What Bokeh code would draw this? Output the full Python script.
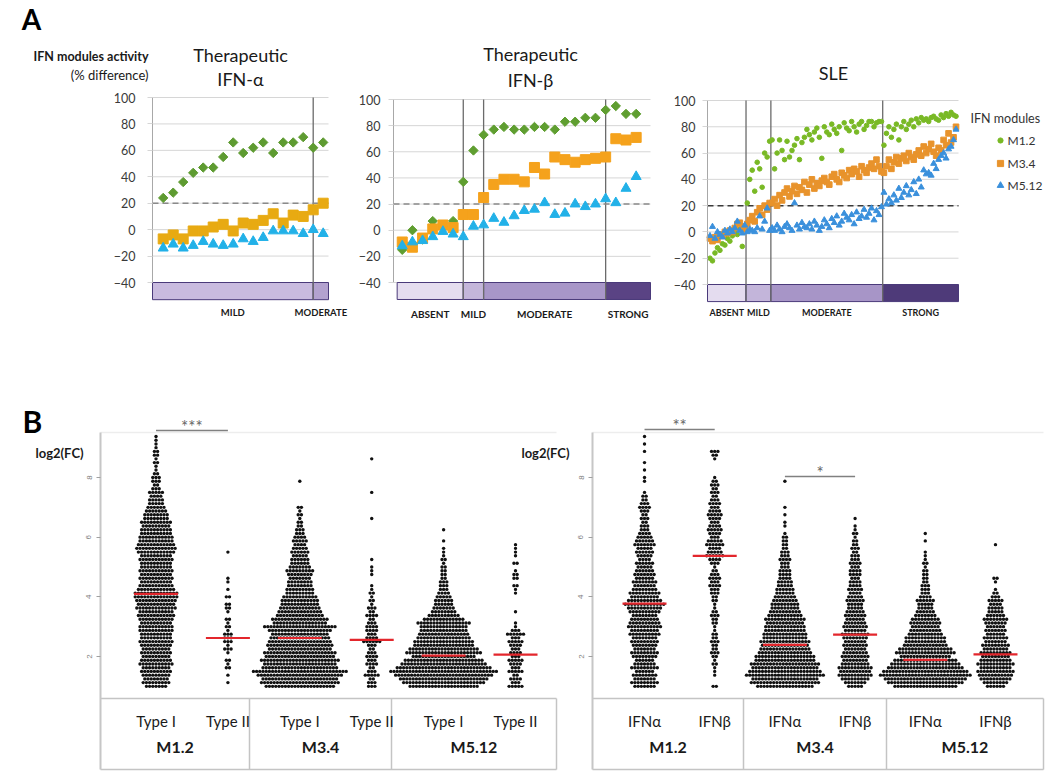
import numpy as np
from bokeh.plotting import figure
from bokeh.models import (Range1d, FixedTicker, Label, ColumnDataSource)
from bokeh.layouts import row, column
from bokeh.embed import file_html
from bokeh.resources import INLINE
from bokeh.core.properties import value

FONT = "Lato"

# ======================= Panel A data =======================
A_TICKS = [-40, -20, 0, 20, 40, 60, 80, 100]
THRESHOLD = 20

# Therapeutic IFN-alpha (17 samples)
a1_m12 = [24, 28, 36, 43, 47, 47, 55, 66, 58, 62, 66, 58, 66, 66, 70, 62, 66]
a1_m34 = [-7, -4, -7, -1, -1, 2, 4, -1, 5, 4, 7, 12, 5, 11, 10, 15, 20]
a1_m512 = [-14, -11, -14, -12, -9, -11, -12, -11, -7, -9, -6, -1, -1, -1, -3, 0, -3]
a1_groups = ["MILD", "MODERATE"]
a1_bounds = [15]

# Therapeutic IFN-beta (24 samples)
a2_m12 = [-15, 0, -7, 7, 3, 7, 37, 61, 73, 77, 79, 77, 77, 79, 79, 77, 83, 83, 86, 86, 92, 95, 89, 89]
a2_m34 = [-9, -13, -6, 1, 4, 2, 12, 12, 25, 35, 39, 39, 37, 48, 43, 56, 54, 52, 54, 55, 56, 70, 69, 71]
a2_m512 = [-12, -9, -8, -5, -1, -3, -5, 3, 4, 9, 6, 11, 15, 16, 21, 12, 13, 20, 18, 20, 24, 21, 32, 41]
a2_groups = ["ABSENT", "MILD", "MODERATE", "STRONG"]
a2_bounds = [6, 8, 20]

# SLE (100 patients)
sle_m12 = [-20, -22, -16, -12, -14, -9, -10, -5, -7, -3, 0, -2, 2, -11, 4,
           22, 40, 47, 31, 53, 48, 34, 60, 57, 69,
           70, 48, 60, 70, 62, 55, 69, 57, 62, 66, 71, 55, 68, 72, 78, 74, 70, 76, 79, 72,
           56, 80, 76, 74, 82, 78, 75, 80, 62, 83, 79, 77, 84, 80, 76, 82, 84, 78, 81, 84,
           84, 80, 83, 84, 84,
           66, 75, 80, 72, 78, 82, 70, 80, 84, 78, 82, 85, 80, 86, 83, 87, 85, 86, 84, 87,
           88, 86, 85, 89, 87, 90, 88, 91, 89, 88]
sle_m34 = [-5, -7, -4, -6, -2, -3, 0, -1, 1, 0, 3, 6, 7, 4, 2,
           6, 9, 12, 8, 15, 18, 13, 20, 17, 22,
           22, 25, 20, 28, 24, 30, 33, 27, 31, 35, 29, 34, 32, 38, 30, 36, 40, 33, 37, 35,
           39, 41, 38, 36, 42, 44, 40, 38, 45, 43, 41, 47, 44, 48, 46, 42, 50, 47, 45, 49,
           52, 48, 55, 50, 46,
           45, 50, 55, 48, 53, 57, 52, 56, 58, 54, 60, 57, 55, 59, 62, 58, 65, 60, 63, 67,
           61, 58, 64, 62, 70, 66, 75, 68, 72, 80]
sle_m512 = [-3, 4, -5, 0, -2, -4, 1, -1, 2, 0, 3, 8, 1, -1, 5,
            0, 2, 1, 0, 3, 12, 2, 8, 18, 1,
            3, 1, 5, 2, 0, 4, 6, 3, 1, 22, 5, 2, 7, 4, 3, 6, 2, 8, 5, 1,
            4, 9, 6, 3, 10, 7, 12, 5, 8, 14, 11, 9, 13, 6, 15, 10, 12, 17, 11, 14,
            18, 9, 16, 13, 19,
            30, 21, 25, 22, 28, 24, 33, 26, 30, 35, 28, 32, 38, 29, 40, 34, 47, 44, 45, 43,
            52, 48, 55, 58, 60, 56, 63, 65, 70, 78]
a3_groups = ["ABSENT", "MILD", "MODERATE", "STRONG"]
a3_bounds = [14.5, 24.5, 69.5]

module_names = ["M1.2", "M3.4", "M5.12"]

# ======================= Panel B data =======================
B_TICKS = [2, 4, 6, 8]
LEVEL_START, LEVEL_STEP = 1.0, 0.125   # beeswarm row bins of log2(FC)

b_groups = ["M1.2", "M3.4", "M5.12"]
b_left_sub = ["Type I", "Type II"]
b_right_sub = ["IFN\u03b1", "IFN\u03b2"]

# points per row (from log2FC = 1.0 upward in 0.125 steps)
L_M12_I = [7, 9, 8, 9, 10, 9, 11, 10, 9, 10, 9, 10, 11, 10, 10, 11, 11, 10, 11, 12, 11, 13, 12, 13,
           14, 14, 12, 11, 10, 11, 10, 11, 10, 10, 11, 10, 12, 13, 12, 11, 11, 10, 10, 9, 10, 8,
           8, 7, 6, 5, 5, 4, 5, 3, 2, 3, 3, 2, 1, 1, 2, 1, 2, 2, 1, 1, 1, 1]
L_M12_II = [0, 1, 0, 1, 0, 2, 1, 2, 0, 1, 3, 1, 3, 3, 3, 1, 2, 1, 2, 0, 1, 2, 2, 0, 2, 0, 1, 0, 1,
            1, 0, 0, 0, 0, 0, 0, 1]
L_M34_I = [22, 25, 24, 27, 30, 24, 23, 25, 22, 23, 20, 21, 20, 19, 18, 20, 23, 17, 18, 15, 14, 13,
           12, 12, 11, 9, 9, 8, 8, 7, 8, 9, 7, 6, 6, 5, 6, 5, 4, 5, 4, 3, 3, 2, 2, 1, 2, 1, 2, 0,
           0, 0, 0, 0, 0, 1]
L_M34_II = [3, 3, 2, 5, 3, 2, 4, 3, 4, 3, 2, 3, 6, 4, 3, 4, 4, 3, 2, 4, 2, 3, 1, 2, 1, 2, 1, 1, 0,
            0, 1, 1, 1, 0, 1, 0, 0, 0, 0, 0, 0, 0, 0, 0, 0, 1, 0, 0, 0, 0, 0, 0, 1, 0, 0, 0, 0, 0,
            0, 0, 0, 1]
L_M512_I = [22, 26, 28, 31, 34, 30, 27, 25, 20, 24, 22, 19, 19, 17, 16, 15, 15, 17, 13, 10, 8, 7, 6,
            6, 5, 4, 3, 3, 3, 2, 2, 2, 2, 1, 2, 1, 1, 1, 0, 1, 0, 0, 1]
L_M512_II = [5, 3, 4, 2, 5, 3, 4, 5, 3, 4, 3, 4, 5, 3, 6, 3, 1, 1, 0, 0, 1, 0, 0, 0, 0, 1, 1, 2, 0,
             2, 2, 1, 0, 2, 0, 1, 1, 1, 1]
left_counts = [L_M12_I, L_M12_II, L_M34_I, L_M34_II, L_M512_I, L_M512_II]
left_medians = [4.1, 2.62, 2.62, 2.56, 2.03, 2.06]

R_M12_A = [7, 9, 7, 8, 6, 9, 7, 6, 8, 9, 7, 8, 9, 8, 10, 9, 11, 10, 9, 8, 10, 11, 13, 11, 9, 10, 8,
           7, 8, 6, 7, 6, 5, 6, 4, 5, 6, 5, 7, 6, 5, 4, 3, 3, 2, 3, 2, 3, 4, 3, 2, 2, 1, 0, 0, 1,
           1, 0, 1, 0, 1, 0, 0, 1, 0, 1, 0, 1]
R_M12_B = [2, 0, 0, 1, 1, 1, 2, 1, 2, 3, 2, 2, 3, 2, 2, 1, 1, 2, 2, 3, 2, 1, 1, 2, 2, 3, 3, 4, 3, 4,
           3, 2, 1, 3, 4, 6, 5, 4, 6, 5, 3, 4, 5, 4, 3, 4, 5, 4, 3, 4, 3, 2, 3, 2, 3, 2, 1, 0, 0,
           0, 0, 1, 2, 3]
R_M34_A = [18, 22, 21, 25, 23, 21, 22, 19, 19, 17, 16, 15, 16, 14, 14, 13, 13, 12, 13, 11, 10, 9,
           9, 8, 7, 6, 6, 5, 5, 4, 4, 4, 3, 3, 4, 3, 3, 2, 2, 2, 2, 1, 0, 1, 1, 0, 1, 0, 1, 0, 0,
           0, 0, 0, 0, 1]
R_M34_B = [5, 7, 9, 11, 10, 11, 9, 8, 9, 8, 7, 8, 7, 8, 9, 7, 8, 7, 6, 7, 6, 5, 5, 6, 5, 4, 5, 4,
           4, 3, 4, 4, 3, 4, 3, 3, 2, 3, 2, 2, 1, 2, 1, 1, 0, 1]
R_M512_A = [20, 24, 26, 29, 27, 24, 22, 20, 16, 19, 17, 14, 13, 13, 11, 10, 9, 10, 9, 7, 6, 5, 5,
            6, 4, 3, 3, 3, 2, 2, 2, 2, 1, 2, 1, 1, 1, 0, 0, 1, 0, 1]
R_M512_B = [6, 8, 10, 11, 12, 10, 12, 10, 9, 10, 8, 9, 7, 8, 6, 7, 6, 7, 8, 6, 5, 5, 4, 5, 3, 2, 1,
            0, 1, 2, 0, 0, 0, 0, 0, 0, 0, 0, 1]
right_counts = [R_M12_A, R_M12_B, R_M34_A, R_M34_B, R_M512_A, R_M512_B]
right_medians = [3.77, 5.37, 2.39, 2.73, 1.89, 2.07]

left_sig = [(1, 2, "***")]
right_sig = [(1, 2, "**"), (3, 4, "*")]


# ======================= helpers =======================
class Geo:
    """Maps page pixels to data coordinates for a figure whose frame fills its canvas."""

    def __init__(self, cx, cy, width, height, page_box, pxr, pyr):
        left, top, right, bottom = (page_box[0] - cx, page_box[1] - cy,
                                    page_box[2] - cx, page_box[3] - cy)
        sx = (right - left) / (pxr[1] - pxr[0])
        sy = (bottom - top) / (pyr[1] - pyr[0])
        self.px0, self.py0 = cx, cy
        self.sx, self.sy = sx, sy
        self.xr = (pxr[0] - left / sx, pxr[0] + (width - left) / sx)
        self.yr = (pyr[1] - (height - top) / sy, pyr[1] + top / sy)
        self.width, self.height = width, height

    def x(self, page_x):
        return self.xr[0] + (page_x - self.px0) / self.sx

    def y(self, page_y):
        return self.yr[1] - (page_y - self.py0) / self.sy

    def dx(self, n):
        return n / self.sx


def base_fig(g):
    p = figure(width=g.width, height=g.height, x_range=Range1d(*g.xr), y_range=Range1d(*g.yr),
               min_border_left=0, min_border_right=0, min_border_top=0, min_border_bottom=0,
               toolbar_location=None, output_backend="svg", x_axis_location=None, tools="")
    p.outline_line_color = None
    p.xgrid.grid_line_color = None
    p.ygrid.grid_line_color = None
    p.background_fill_color = "white"
    p.border_fill_color = "white"
    return p


def lbl(p, x, y, text, size, bold=False, align="center", color="#1a1a1a", baseline="middle"):
    p.add_layout(Label(x=x, y=y, text=text, text_font=FONT, text_font_size=size,
                       text_font_style="bold" if bold else "normal", text_align=align,
                       text_baseline=baseline, text_color=color))


# ======================= Panel A =======================
A_H = 343
BAND_TOP, BAND_BOTTOM = -40, -53


def build_a(cx, width, page_box, pxr, series, bounds, band_left, names, colors, styles,
            standoff, dash_color, label_y, label_size):
    g = Geo(cx, 0, width, A_H, page_box, pxr, (-40, 100))
    p = base_fig(g)
    x0, x1 = pxr
    p.yaxis.ticker = FixedTicker(ticks=A_TICKS)
    p.yaxis.fixed_location = x0
    p.yaxis.bounds = (BAND_TOP, 100)
    p.yaxis.axis_line_color = "#a8a8a8"
    p.yaxis.major_tick_line_color = "#d6d6d6"
    p.yaxis.major_tick_out = 5
    p.yaxis.major_tick_in = 0
    p.yaxis.minor_tick_line_color = None
    p.yaxis.major_label_text_font = FONT
    p.yaxis.major_label_text_font_size = "12.5px"
    p.yaxis.major_label_text_color = "#3a3a3a"
    p.yaxis.major_label_standoff = standoff

    # horizontal gridlines over the plot box
    p.segment(x0=x0, x1=x1, y0=A_TICKS, y1=A_TICKS, line_color="#d6d6d6", line_width=1)

    edges = [band_left] + list(bounds) + [x1]
    p.quad(left=edges[:-1], right=edges[1:], top=BAND_TOP, bottom=BAND_BOTTOM,
           fill_color=colors, line_color="#4a3a7a", line_width=1)
    p.segment(x0=list(bounds), x1=list(bounds), y0=BAND_BOTTOM, y1=100,
              line_color="#6b6b6b", line_width=1.3)
    p.segment(x0=[x0], x1=[x1], y0=[THRESHOLD], y1=[THRESHOLD], line_color=dash_color,
              line_dash="6 4", line_width=1.5)
    rs = []
    for vals, st in zip(series, styles):
        xs = list(range(len(vals)))
        rs.append(p.scatter(xs, vals, **st))
    centers = [(a + b) / 2 for a, b in zip(edges[:-1], edges[1:])]
    src = ColumnDataSource(dict(x=centers, y=[g.y(label_y)] * len(centers), text=names))
    p.text(x="x", y="y", text="text", source=src, text_font=value(FONT),
           text_font_style="bold", text_font_size=label_size, text_align="center",
           text_baseline="middle", text_color="#1a1a1a")
    return p, g, rs


st1 = [dict(marker="square", angle=np.pi / 4, size=6.6, fill_color="#5e9b31", line_color="#5e9b31"),
       dict(marker="square", size=10, fill_color="#e8aa12", line_color="#e8aa12"),
       dict(marker="triangle", size=10, fill_color="#22b1e8", line_color="#22b1e8")]
st2 = [dict(marker="square", angle=np.pi / 4, size=6.6, fill_color="#5f9e30", line_color="#5f9e30"),
       dict(marker="square", size=10, fill_color="#f5a21c", line_color="#f5a21c"),
       dict(marker="triangle", size=10, fill_color="#22b1e8", line_color="#22b1e8")]
st3 = [dict(marker="circle", size=4.6, fill_color="#79b925", line_color="#79b925"),
       dict(marker="square", size=5.6, fill_color="#e8932c", line_color="#e8932c"),
       dict(marker="triangle", size=6, fill_color="#3a90dc", line_color="#3a90dc")]

# chart 1 (page x 0-348)
pA1, g1, _ = build_a(0, 348, (152, 97, 328, 282), (-1.07, 16.53), [a1_m12, a1_m34, a1_m512],
                     a1_bounds, -1.07, a1_groups, ["#c9bbdf", "#b3a2cf"], st1, 12, "#8a8a8a",
                     312, "9.5px")
lbl(pA1, g1.x(31), g1.y(18), "A", "28px", bold=True, color="#000000")
lbl(pA1, g1.x(148), g1.y(56), "IFN modules activity", "12.5px", bold=True, align="right")
lbl(pA1, g1.x(148), g1.y(74), "(% difference)", "13px", align="right")
lbl(pA1, g1.x(240), g1.y(54), "Therapeutic", "18px")
lbl(pA1, g1.x(240), g1.y(78), "IFN-\u03b1", "18px")

# chart 2 (page x 348-665)
pA2, g2, _ = build_a(348, 317, (393, 99, 650, 282), (-0.86, 24.41), [a2_m12, a2_m34, a2_m512],
                     a2_bounds, -0.5, a2_groups, ["#e5ddef", "#c4b6da", "#a896c8", "#5a4384"],
                     st2, 8, "#8a8a8a", 313, "10px")
lbl(pA2, g2.x(530), g2.y(53), "Therapeutic", "18px")
lbl(pA2, g2.x(530), g2.y(79), "IFN-\u03b2", "18px")

# chart 3 (page x 665-1050)
pA3, g3, rs3 = build_a(665, 385, (707, 100, 958, 284), (-1.0, 100.0),
                       [sle_m12, sle_m34, sle_m512], a3_bounds, -1.0, a3_groups,
                       ["#e4dcef", "#c3b5da", "#a795c7", "#4e3a79"], st3, 7, "#3a3a3a",
                       312, "9px")
lbl(pA3, g3.x(833), g3.y(72), "SLE", "18px")

# legend of the IFN modules (key drawn beside the SLE chart)
lbl(pA3, g3.x(970), g3.y(118), "IFN modules", "12.5px", align="left", color="#333333")
key_y = [g3.y(v) for v in (140, 163, 185)]
for name, st, ky in zip(module_names, st3, key_y):
    p_st = dict(st)
    p_st["size"] = st["size"] + 0.6
    pA3.scatter([g3.x(1000)], [ky], **p_st)
key_src = ColumnDataSource(dict(x=[g3.x(1007)] * 3, y=key_y, text=module_names))
pA3.text(x="x", y="y", text="text", source=key_src, text_font=value(FONT),
         text_font_size="12px", text_align="left", text_baseline="middle", text_color="#333333")

# ======================= Panel B =======================
B_TOP = 343
B_H = 777 - B_TOP
TABLE_TOP, TABLE_BOTTOM, PLOT_TOP = 0.59, -1.79, 9.51


def build_b(cx, width, page_x_box, pxr, counts, medians, subs, sep_pages, sigs):
    g = Geo(cx, B_TOP, width, B_H, (page_x_box[0], 477, page_x_box[1], 656), pxr, (2, 8))
    p = base_fig(g)
    x_left, x_right = pxr
    p.yaxis.ticker = FixedTicker(ticks=B_TICKS)
    p.yaxis.fixed_location = x_left
    p.yaxis.bounds = (TABLE_BOTTOM, PLOT_TOP)
    p.yaxis.axis_line_color = "#c6c6c6"
    p.yaxis.axis_line_width = 2
    p.yaxis.major_tick_line_color = "#a0a0a0"
    p.yaxis.major_tick_out = 4
    p.yaxis.major_tick_in = 0
    p.yaxis.minor_tick_line_color = None
    p.yaxis.major_label_orientation = "vertical"
    p.yaxis.major_label_text_font_size = "8px"
    p.yaxis.major_label_text_color = "#808080"
    p.yaxis.major_label_standoff = 5

    cols = list(range(1, len(counts) + 1))
    dx = g.dx(3.2)
    xs, ys = [], []
    for c, cnt in zip(cols, counts):
        for i, n in enumerate(cnt):
            yv = LEVEL_START + LEVEL_STEP * i
            for k in range(n):
                xs.append(c + (k - (n - 1) / 2) * dx)
                ys.append(yv)
    p.scatter(xs, ys, marker="circle", size=3.4, fill_color="#111111", line_color=None)
    hw = g.dx(22)
    p.segment(x0=[c - hw for c in cols], x1=[c + hw for c in cols], y0=medians, y1=medians,
              line_color="#e3262c", line_width=2.2)

    # table and frame lines
    seps = [g.x(s) for s in sep_pages]
    line_c = "#c4c4c4"
    p.segment(x0=[x_left, x_left], x1=[x_right, x_right], y0=[TABLE_TOP, TABLE_BOTTOM],
              y1=[TABLE_TOP, TABLE_BOTTOM], line_color=line_c, line_width=1.5)
    p.segment(x0=seps + [x_right], x1=seps + [x_right], y0=TABLE_BOTTOM, y1=TABLE_TOP,
              line_color=line_c, line_width=1.5)
    p.segment(x0=[x_left], x1=[x_right], y0=[PLOT_TOP], y1=[PLOT_TOP],
              line_color="#ededed", line_width=1.5)

    sub_src = ColumnDataSource(dict(x=cols, y=[g.y(720)] * len(cols),
                                    text=subs * len(b_groups)))
    p.text(x="x", y="y", text="text", source=sub_src, text_font=value(FONT),
           text_font_size="15px", text_align="center", text_baseline="middle",
           text_color="#1a1a1a")
    bounds = [x_left] + seps + [x_right]
    gsrc = ColumnDataSource(dict(x=[(a + b) / 2 for a, b in zip(bounds[:-1], bounds[1:])],
                                 y=[g.y(746)] * len(b_groups), text=b_groups))
    p.text(x="x", y="y", text="text", source=gsrc, text_font=value(FONT),
           text_font_size="16px", text_font_style="bold", text_align="center",
           text_baseline="middle", text_color="#1a1a1a")

    for (a, b, stars), ypage in sigs:
        yv = g.y(ypage)
        p.segment(x0=[a], x1=[b], y0=[yv], y1=[yv], line_color="#808080", line_width=1.4)
        lbl(p, (a + b) / 2, g.y(ypage - 4), stars, "17px", color="#666666")
    return p, g


pB1, gb1 = build_b(0, 570, (100, 556), (0.228, 6.570), left_counts, left_medians, b_left_sub,
                   [249, 391], [(left_sig[0], 430)])
lbl(pB1, gb1.x(32), gb1.y(420), "B", "30px", bold=True, color="#000000")
lbl(pB1, gb1.x(35), gb1.y(452), "log2(FC)", "13px", bold=True, align="left")
lbl(pB1, gb1.x(569), gb1.y(452), "log2(FC)", "13px", bold=True, align="right")

pB2, gb2 = build_b(570, 480, (592, 1043), (0.259, 6.684), right_counts, right_medians,
                   b_right_sub, [743, 886], [(right_sig[0], 429), (right_sig[1], 476)])

layout = column(row(pA1, pA2, pA3), row(pB1, pB2))
open("out.html", "w").write(file_html(layout, INLINE))
